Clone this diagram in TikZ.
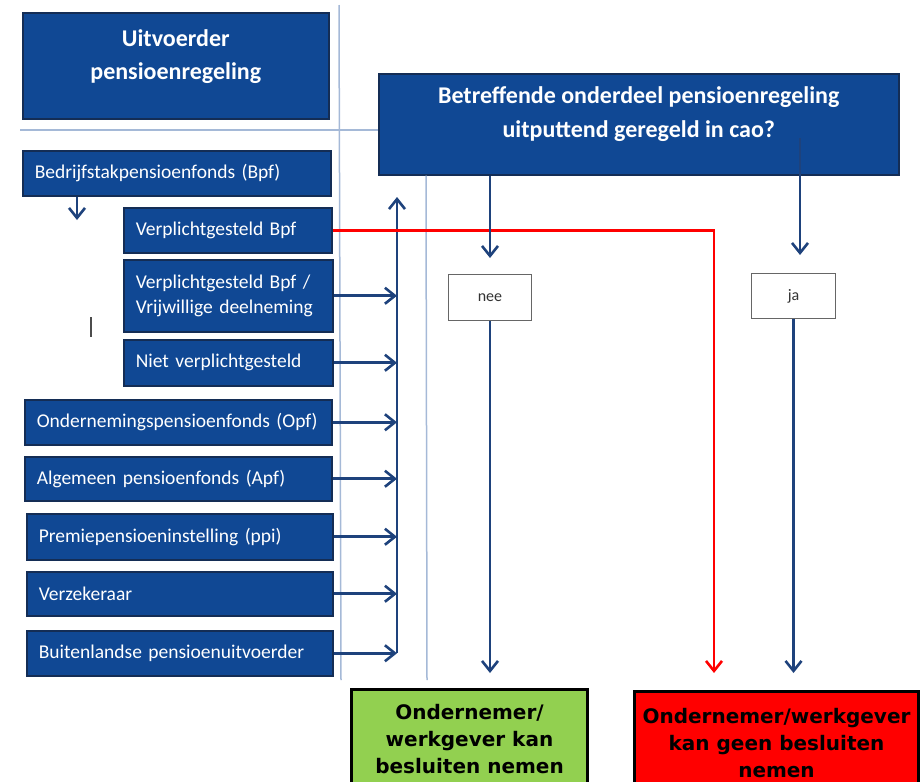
\documentclass[tikz,border=0pt]{standalone}
\usepackage{fontspec}
\setmainfont{Carlito}
\newfontfamily\verdana{DejaVu Sans}
\usetikzlibrary{arrows.meta,positioning}
\definecolor{pblue}{RGB}{16,72,148}
\definecolor{pedge}{RGB}{20,45,85}
\definecolor{parrow}{RGB}{30,66,124}
\definecolor{pthin}{RGB}{165,185,215}
\definecolor{pgreen}{RGB}{146,208,80}
\tikzstyle{block} = [rectangle, draw=pedge, line width=1.5pt, fill=pblue, text=white,
    font=\fontsize{19.5}{25}\selectfont, align=left, inner xsep=12pt, inner ysep=0pt,
    anchor=north west]
\tikzstyle{head} = [block, inner sep=0pt]
\tikzstyle{headtext} = [text=white, font=\bfseries\fontsize{24}{33.5}\selectfont, align=center]
\tikzstyle{answer} = [rectangle, draw=black!60, line width=1pt, fill=white, text=black!80,
    font=\fontsize{16}{18}\selectfont, anchor=north west, inner sep=0pt]
\tikzstyle{verdict} = [rectangle, draw=black, line width=3pt, text=black, anchor=north west,
    font=\verdana\bfseries\fontsize{20}{27}\selectfont, align=center, inner sep=0pt]
\tikzstyle{flow} = [->, draw=parrow, line width=2.6pt]
\tikzstyle{redflow} = [->, draw=red, line width=2.6pt]
\tikzstyle{thinline} = [draw=pthin, line width=1.5pt]

\begin{document}
\begin{tikzpicture}[x=1pt,y=-1pt,>={Straight Barb[length=10pt,width=16pt]}]
  \useasboundingbox (0,0) rectangle (924,782);

  \node[head, minimum width=306, minimum height=106] (uitv) at (22,12) {};
  \node[headtext] (uitvtext) at ([yshift=9]uitv.center) {Uitvoerder\\pensioenregeling};
  \node[head, minimum width=520, minimum height=101] (vraag) at (378,73) {};
  \node[headtext] (vraagtext) at ([yshift=10]vraag.center)
    {Betreffende onderdeel pensioenregeling\\uitputtend geregeld in cao?};

  % hulplijnen
  \draw[thinline] (339,5) -- (341,680);
  \draw[thinline] (20,130) -- (vraag.west |- 0,130);
  \draw[thinline] (vraag.south -| 426,0) -- (427,680);

  \node[block, text width=284, minimum height=45] (bpf)   at (22,150)  {Bedrijfstakpensioenfonds (Bpf)};
  \node[block, text width=184, minimum height=45] (vbpf)  at (123,207) {Verplichtgesteld Bpf};
  \node[block, text width=185, minimum height=72] (vrijw) at (123,259) {Verplichtgesteld Bpf /\\Vrijwillige deelneming};
  \node[block, text width=185, minimum height=46] (niet)  at (123,339) {Niet verplichtgesteld};
  \node[block, text width=283, minimum height=45] (opf)   at (24,399)  {Ondernemingspensioenfonds (Opf)};
  \node[block, text width=283, minimum height=44] (apf)   at (24,456)  {Algemeen pensioenfonds (Apf)};
  \node[block, text width=282, minimum height=46] (ppi)   at (26,513)  {Premiepensioeninstelling (ppi)};
  \node[block, text width=282, minimum height=44] (verz)  at (26,571)  {Verzekeraar};
  \node[block, text width=282, minimum height=45] (buit)  at (26,630)  {Buitenlandse pensioenuitvoerder};

  \node[answer, minimum width=83, minimum height=46] (nee) at (448,274) {nee};
  \node[answer, minimum width=84, minimum height=45] (ja)  at (751,273) {ja};

  \node[verdict, fill=pgreen, minimum width=236, minimum height=100] (groen) at (350,688)
    {Ondernemer/\\werkgever kan\\besluiten nemen};
  \node[verdict, fill=red, minimum width=284, minimum height=104] (rood) at (633,690)
    {Ondernemer/werkgever\\kan geen besluiten\\nemen};

  \coordinate (bpfpijl)  at (77,220);
  \coordinate (verzamel) at (397,197);
  \coordinate (jain)     at (800,138);
  \coordinate (roodpijl) at (714,673);

  \draw[flow] (bpf.south -| bpfpijl) -- (bpfpijl);
  \draw[flow] (buit.east -| verzamel) -- (verzamel);
  \foreach \n in {vrijw,niet,opf,apf,ppi,verz,buit}
    \draw[flow] (\n.east) -- (\n.east -| verzamel);

  \draw[redflow] (vbpf.east) -| (roodpijl);

  \draw[flow, shorten >=16pt] (vraag.south -| nee.north) -- (nee.north);
  \draw[flow, shorten >=18pt] (jain) -- (jain |- ja.north);
  \draw[flow, shorten >=15pt] (nee.south) -- (nee.south |- groen.north);
  \draw[flow, shorten >=17pt] (ja.south) -- (ja.south |- rood.north);

  \draw[line width=2pt, black!70] (91,317) -- (91,337);
\end{tikzpicture}
\end{document}
